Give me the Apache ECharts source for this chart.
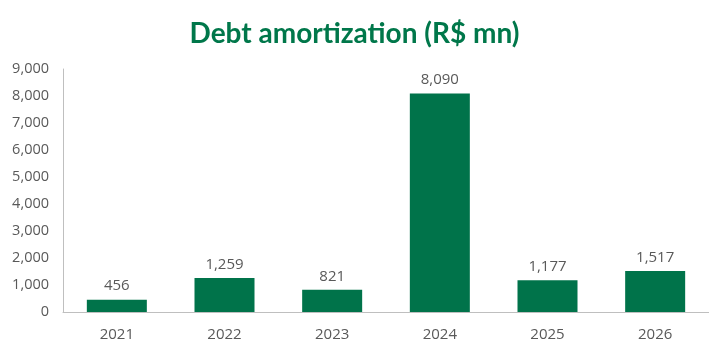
<!DOCTYPE html>
<html>
<head>
<meta charset="utf-8">
<script src="https://cdn.jsdelivr.net/npm/echarts@6/dist/echarts.min.js"></script>
<style>
  html, body { margin: 0; padding: 0; background: #fff; }
  #chart { width: 709px; height: 354px; }
</style>
</head>
<body>
<div id="chart"></div>
<script>
  var years = ['2021', '2022', '2023', '2024', '2025', '2026'];
  var amortization = [456, 1259, 821, 8090, 1177, 1517];

  var chart = echarts.init(document.getElementById('chart'));
  chart.setOption({
    animation: false,
    title: {
      text: 'Debt amortization (R$ mn)',
      left: 'center',
      top: 15,
      textStyle: {
        color: '#00774A',
        fontSize: 28,
        fontWeight: 'bold',
        fontFamily: 'Lato'
      }
    },
    grid: {
      left: 63,
      right: -3,
      top: 69,
      bottom: 42
    },
    xAxis: {
      type: 'category',
      data: years,
      axisLine: { lineStyle: { color: '#BFBFBF' } },
      axisTick: { show: false },
      axisLabel: {
        color: '#595959',
        fontSize: 15,
        fontFamily: 'Open Sans',
        margin: 15
      }
    },
    yAxis: {
      type: 'value',
      min: 0,
      max: 9000,
      interval: 1000,
      axisLine: { show: true, lineStyle: { color: '#BFBFBF' } },
      axisTick: { show: false },
      splitLine: { show: false },
      axisLabel: {
        color: '#595959',
        fontSize: 14.5,
        fontFamily: 'Open Sans',
        margin: 14,
        formatter: function (v) { return v.toLocaleString('en-US'); }
      }
    },
    series: [{
      type: 'bar',
      data: amortization,
      barWidth: 60,
      itemStyle: { color: '#00734A' },
      label: {
        show: true,
        position: 'top',
        distance: 6,
        color: '#595959',
        fontSize: 15,
        fontFamily: 'Open Sans',
        formatter: function (p) { return p.value.toLocaleString('en-US'); }
      }
    }]
  });
</script>
</body>
</html>
